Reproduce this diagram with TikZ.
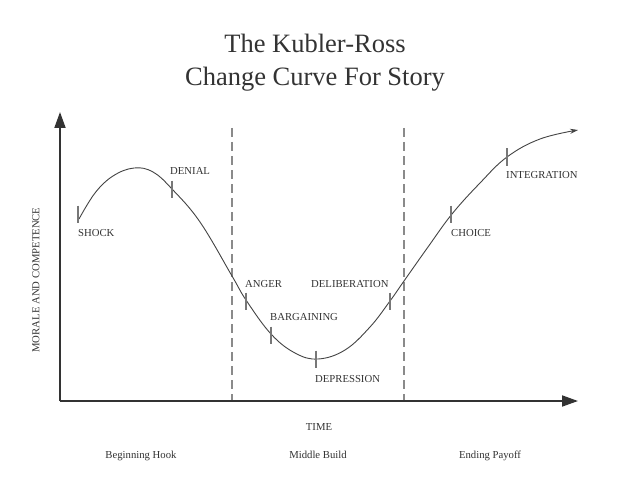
\documentclass[tikz,border=0pt]{standalone}
\usepackage{fontspec}
\setmainfont{Liberation Serif}
\usetikzlibrary{arrows.meta}
\definecolor{ink}{HTML}{333333}
\definecolor{curvec}{HTML}{444444}
\definecolor{tickc}{HTML}{777777}
\definecolor{dashc}{HTML}{8A8A8A}
\begin{document}
\begin{tikzpicture}[x=1pt,y=-1pt,
  axis/.style={draw=ink, line width=1.8pt, -{Triangle[length=16pt,width=11pt]}},
  phase/.style={draw=dashc, line width=1.1pt, dash pattern=on 9pt off 5pt},
  curveline/.style={draw=curvec, line width=0.9pt},
  tickmark/.style={draw=tickc, line width=1.1pt},
  stage/.style={font=\fontsize{10.7}{12}\selectfont, text=ink, anchor=base west, inner sep=0pt},
  lab/.style={font=\fontsize{10.7}{12}\selectfont, text=ink, anchor=base, inner sep=0pt},
  ttl/.style={font=\fontsize{26.5}{30}\selectfont, text=ink, anchor=base, inner sep=0pt}]
\useasboundingbox (0,0) rectangle (629,484);
\fill[white] (0,0) rectangle (629,484);
% title
\node[ttl] (t1) at (315,53) {The Kubler-Ross};
\node[ttl] (t2) at (315,86) {Change Curve For Story};
% axes
\coordinate (O) at (60,401);
\coordinate (Ytop) at (60,112);
\coordinate (Xend) at (578,401);
\draw[axis] (O) -- (Ytop);
\draw[axis] (O) -- (Xend);
% phase lines
\coordinate (d1a) at (232,128); \coordinate (d1b) at (232,400);
\coordinate (d2a) at (404,128); \coordinate (d2b) at (404,400);
\draw[phase] (d1a) -- (d1b);
\draw[phase] (d2a) -- (d2b);
% curve
\draw[curveline, -{Stealth[length=8pt,width=5pt]}] plot[smooth, tension=0.65] coordinates {
 (79,219) (95,193) (113,176) (134,168) (153,172) (172,189) (200,222) (232,276)
 (246,300) (271,334) (295,353) (318,359) (345,350) (370,327) (390,301) (404,281)
 (428,247) (452,214) (480,183) (507,157) (540,139) (578,130)};
% ticks
\foreach \n/\x/\y in {shock/78/214, denial/172/189, anger/246/301, barg/271/335, depr/316/359, delib/390/301, choice/451/214, integ/507/157}{
  \coordinate (\n) at (\x,\y);
  \draw[tickmark] (\n) ++(0,-8.5) -- ++(0,17);
}
% stage labels
\node[stage] (lshock) at (78,236) {SHOCK};
\node[stage] (ldenial) at (170,175) {DENIAL};
\node[stage] (langer) at (245,287) {ANGER};
\node[stage] (lbarg) at (270,320) {BARGAINING};
\node[stage] (ldepr) at (315,382) {DEPRESSION};
\node[stage] (ldelib) at (311,287) {DELIBERATION};
\node[stage] (lchoice) at (451,236) {CHOICE};
\node[stage] (linteg) at (506,178) {INTEGRATION};
% axis labels
\node[lab] (time) at (319,430) {TIME};
\node[lab, rotate=90, anchor=center] (ylab) at (36,280) {MORALE AND COMPETENCE};
\node[lab] (p1) at (141,458) {Beginning Hook};
\node[lab] (p2) at (318,458) {Middle Build};
\node[lab] (p3) at (490,458) {Ending Payoff};
\end{tikzpicture}
\end{document}
